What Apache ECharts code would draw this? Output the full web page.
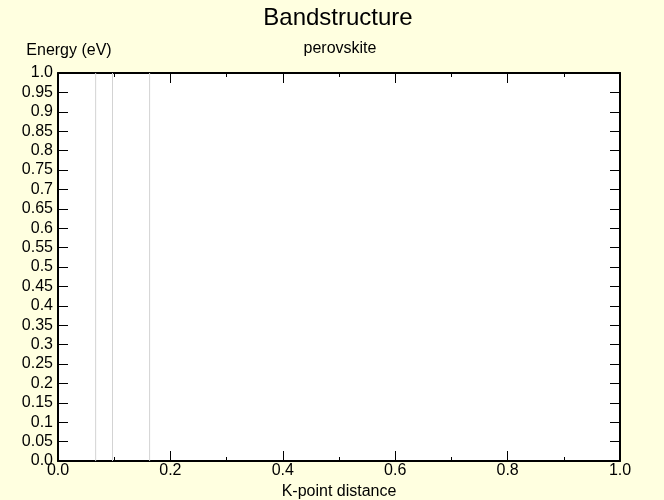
<!DOCTYPE html>
<html>
<head>
<meta charset="utf-8">
<script src="https://cdn.jsdelivr.net/npm/echarts@6/dist/echarts.min.js"></script>
<style>
html,body{margin:0;padding:0;background:#ffffe0;}
#chart{width:664px;height:500px;}
</style>
</head>
<body>
<div id="chart"></div>
<script>
// Data
var titleText = 'Bandstructure';
var subtitleText = 'perovskite';
var xAxisName = 'K-point distance';
var yAxisName = 'Energy (eV)';
var xRange = [0, 1.0];
var yRange = [0, 1.0];
var xInterval = 0.2;
var yInterval = 0.05;
// high-symmetry k-point positions (vertical guide lines)
var kPointLines = [0.067, 0.097, 0.163];

var FONT = '"Liberation Sans", Arial, sans-serif';

function yFmt(v) {
  if (Math.abs(v) < 1e-9 || Math.abs(v - 1) < 1e-9) return v.toFixed(1);
  return String(Number(v.toFixed(2)));
}
function xFmt(v) { return v.toFixed(1); }

var chart = echarts.init(document.getElementById('chart'), null, {renderer: 'canvas'});

var axisLineStyle = {show: true, onZero: false, lineStyle: {color: '#000', width: 2}};

var series = kPointLines.map(function (k) {
  return {
    type: 'line',
    data: [[k, yRange[0]], [k, yRange[1]]],
    symbol: 'none',
    silent: true,
    z: 0,
    lineStyle: {color: '#d3d3d3', width: 1},
    animation: false
  };
});

chart.setOption({
  backgroundColor: '#ffffe0',
  animation: false,
  textStyle: {fontFamily: FONT},
  title: [
    {text: titleText, left: 338, top: 6, padding: 0, textAlign: 'center',
     textStyle: {fontFamily: FONT, fontSize: 24, fontWeight: 'normal', color: '#000'}},
    {text: subtitleText, left: 340, top: 41, padding: 0, textAlign: 'center',
     textStyle: {fontFamily: FONT, fontSize: 16, fontWeight: 'normal', color: '#000'}}
  ],
  grid: {left: 58, right: 44, top: 73, bottom: 39, containLabel: false,
         outerBoundsMode: 'none',
         show: true, backgroundColor: '#fff', borderWidth: 0},
  xAxis: [
    {
      type: 'value', position: 'bottom', min: xRange[0], max: xRange[1], interval: xInterval,
      name: xAxisName, nameLocation: 'middle', nameGap: 16,
      nameTextStyle: {fontFamily: FONT, fontSize: 16, color: '#000'},
      axisLine: axisLineStyle,
      axisTick: {show: true, inside: true, length: 10, lineStyle: {color: '#000', width: 1}},
      minorTick: {show: true, splitNumber: 2, length: 4, lineStyle: {color: '#000', width: 1}},
      axisLabel: {show: true, margin: 2, formatter: xFmt, fontFamily: FONT, fontSize: 16, color: '#000'},
      splitLine: {show: false}
    },
    {
      type: 'value', position: 'top', min: xRange[0], max: xRange[1], interval: xInterval,
      axisLine: axisLineStyle,
      axisTick: {show: true, inside: true, length: 10, lineStyle: {color: '#000', width: 1}},
      minorTick: {show: true, splitNumber: 2, length: 4, lineStyle: {color: '#000', width: 1}},
      axisLabel: {show: false},
      splitLine: {show: false}
    }
  ],
  yAxis: [
    {
      type: 'value', position: 'left', min: yRange[0], max: yRange[1], interval: yInterval,
      name: yAxisName, nameLocation: 'end', nameGap: 14,
      nameTextStyle: {fontFamily: FONT, fontSize: 16, color: '#000', align: 'center', padding: [0, 0, 0, 22]},
      axisLine: axisLineStyle,
      axisTick: {show: true, inside: true, length: 10, lineStyle: {color: '#000', width: 1}},
      axisLabel: {show: true, margin: 5, formatter: yFmt, fontFamily: FONT, fontSize: 16, color: '#000'},
      splitLine: {show: false}
    },
    {
      type: 'value', position: 'right', min: yRange[0], max: yRange[1], interval: yInterval,
      axisLine: axisLineStyle,
      axisTick: {show: true, inside: true, length: 10, lineStyle: {color: '#000', width: 1}},
      axisLabel: {show: false},
      splitLine: {show: false}
    }
  ],
  series: series
});
</script>
</body>
</html>
